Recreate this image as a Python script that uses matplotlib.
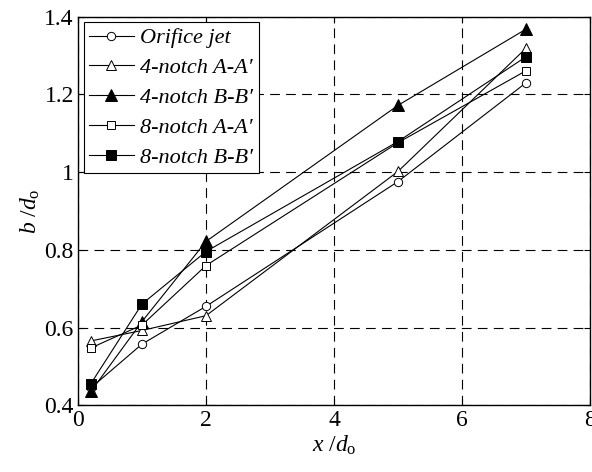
import matplotlib
matplotlib.use("Agg")
import matplotlib.pyplot as plt

plt.rcParams['font.family'] = ['Liberation Serif', 'DejaVu Serif']
plt.rcParams['mathtext.fontset'] = 'custom'
plt.rcParams['mathtext.rm'] = 'Liberation Serif'
plt.rcParams['mathtext.it'] = 'Liberation Serif:italic'
plt.rcParams['lines.scale_dashes'] = False

x = [0.2, 1, 2, 5, 7]
orifice = [0.445, 0.558, 0.655, 0.976, 1.230]
n4_aa = [0.566, 0.593, 0.631, 1.002, 1.319]
n4_bb = [0.436, 0.616, 0.822, 1.172, 1.368]
n8_aa = [0.548, 0.607, 0.760, 1.076, 1.261]
n8_bb = [0.456, 0.661, 0.796, 1.079, 1.297]

labels = ["Orifice jet", "4-notch A-A\u2032", "4-notch B-B\u2032",
          "8-notch A-A\u2032", "8-notch B-B\u2032"]
xticks = [0, 2, 4, 6, 8]
yticks = [0.4, 0.6, 0.8, 1.0, 1.2, 1.4]
yticklabels = ["0.4", "0.6", "0.8", "1", "1.2", "1.4"]

fig = plt.figure(figsize=(5.92, 4.72), dpi=100)
ax = fig.add_axes([0.1318, 0.1409, 0.8648, 0.8237])

series = [orifice, n4_aa, n4_bb, n8_aa, n8_bb]
styles = [
    dict(marker='o', mfc='white', ms=6),
    dict(marker='^', mfc='white', ms=7.5),
    dict(marker='^', mfc='black', ms=8),
    dict(marker='s', mfc='white', ms=6),
    dict(marker='s', mfc='black', ms=7),
]
for ys, lab, st in zip(series, labels, styles):
    ax.plot(x, ys, color='black', lw=0.8, mec='black', mew=0.7,
            label=lab, clip_on=False, **st)

ax.set_xlim(0, 8)
ax.set_ylim(0.4, 1.4)
ax.set_xticks(xticks)
ax.set_xticklabels([str(t) for t in xticks])
ax.set_yticks(yticks)
ax.set_yticklabels(yticklabels)
ax.grid(True, color='black', lw=0.8, linestyle=(0, (7, 4.5)))
ax.tick_params(direction='in', length=4, width=0.8, top=True, right=True,
               labelsize=17, pad=3)
for s in ax.spines.values():
    s.set_linewidth(1.0)

ax.set_xlabel(r'$x\ /d_{\rm o}$', fontsize=17, labelpad=2)
ax.set_ylabel(r'$b\ /d_{\rm o}$', fontsize=17, labelpad=2)

leg = ax.legend(loc='upper left', prop={'style': 'italic', 'size': 16},
                frameon=True, fancybox=False, edgecolor='black',
                framealpha=1, borderaxespad=0.25, labelspacing=0.42,
                handlelength=2.0, handletextpad=0.3, borderpad=0.25)
leg.get_frame().set_linewidth(0.8)

fig.savefig('out.png', dpi=100)
